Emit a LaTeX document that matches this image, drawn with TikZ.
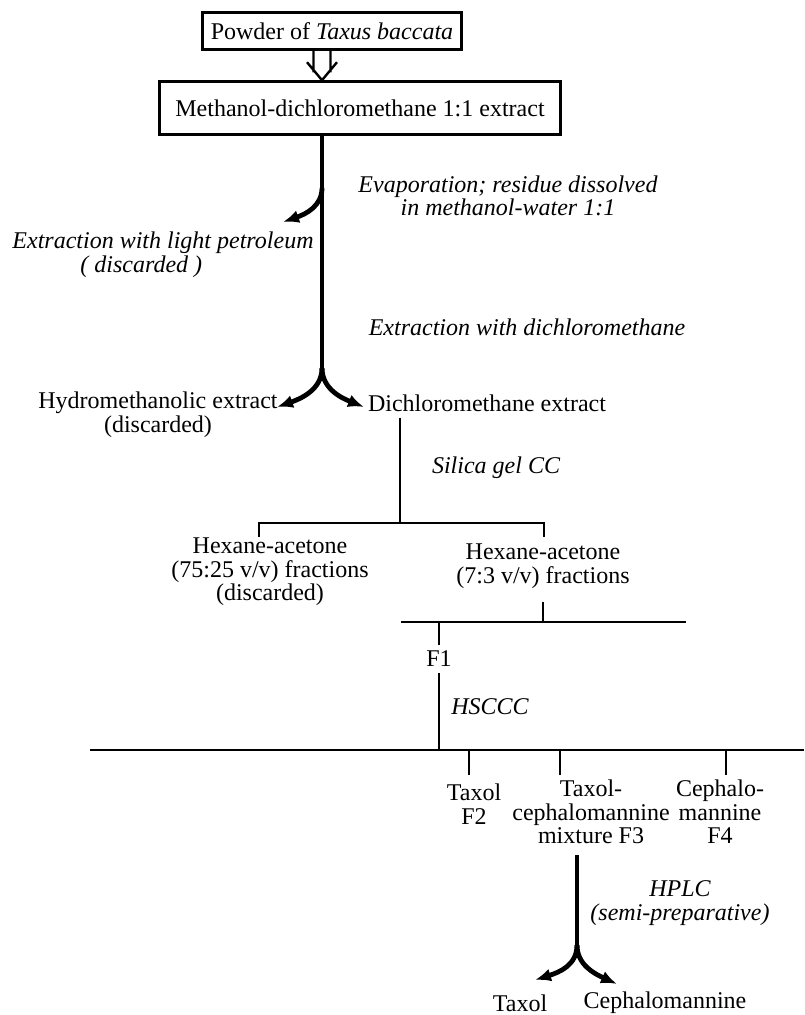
\documentclass[tikz,border=0pt]{standalone}
\usepackage{fontspec}
\setmainfont{Liberation Serif}
\usetikzlibrary{arrows.meta}

\begin{document}
\begin{tikzpicture}[x=0.5pt,y=-0.5pt,
  every node/.style={font=\fontsize{12}{11.8}\selectfont, inner sep=0pt, align=center},
  box/.style={draw, line width=1.3pt},
  lab/.style={font=\fontsize{12}{11.8}\selectfont\itshape},
  thinline/.style={line width=0.9pt},
  midline/.style={line width=1.4pt},
  heavyline/.style={line width=2.4pt},
  hollowline/.style={line width=1.2pt, line join=miter},
  tip/.style={-{Latex[length=8pt,width=6.5pt]}}]
\useasboundingbox (0,0) rectangle (804,1015);
\node[box, minimum width=129.5pt, minimum height=18.5pt] (v1) at (332,31) {Powder of \textit{Taxus baccata}};
\node[box, minimum width=200.5pt, minimum height=26.5pt] (v2) at (360,108) {Methanol-dichloromethane 1:1 extract};
\node[lab] (v3) at (508,196) {Evaporation; residue dissolved\\in methanol-water 1:1};
\node[lab, align=left] (v4) at (163,255) {Extraction with light petroleum\\\hspace*{34pt}( discarded )};
\node[lab] (v5) at (527,327) {Extraction with dichloromethane};
\node (v6) at (158,415) {Hydromethanolic extract\\(discarded)};
\node (v7) at (487,403) {Dichloromethane extract};
\node[lab] (v8) at (496,468) {Silica gel CC};
\node (v9) at (270,572) {Hexane-acetone\\(75:25 v/v) fractions\\(discarded)};
\node (v10) at (543,566) {Hexane-acetone\\(7:3 v/v) fractions};
\node (v11) at (439,659) {F1};
\node[lab] (v12) at (490,707) {HSCCC};
\node (v13) at (474,804) {Taxol\\F2};
\node (v14) at (591,812) {Taxol-\\cephalomannine\\mixture F3};
\node (v15) at (720,812) {Cephalo-\\mannine\\F4};
\node[lab] (v16) at (680,903) {HPLC\\(semi-preparative)};
\node (v17) at (520,1003) {Taxol};
\node (v18) at (665,1003) {Cephalomannine};
\coordinate (a1) at (322,188);
\coordinate (a2) at (322,368);
\coordinate (a3) at (283,222);
\coordinate (a4) at (277,407);
\coordinate (a5) at (364,407);
\coordinate (b0) at (400,523);
\coordinate (b1) at (259,537);
\coordinate (b2) at (544,537);
\coordinate (c0) at (401,622);
\coordinate (c1) at (686,622);
\coordinate (c2) at (543,602);
\coordinate (d0) at (90,750);
\coordinate (d1) at (804,750);
\coordinate (e1) at (469,775);
\coordinate (e2) at (560,775);
\coordinate (e3) at (726,775);
\coordinate (g0) at (577,855);
\coordinate (g1) at (577,945);
\coordinate (g2) at (535,980);
\coordinate (g3) at (617,984);
\draw [hollowline] (v1.south -| a1) ++(-8.5,0) -- ++(0,21.5)
  (v1.south -| a1) ++(8.5,0) -- ++(0,21.5)
  (v2.north -| a1) ++(-15,-18) -- (v2.north -| a1) -- ++(15,-18);
\draw [heavyline] (v2.south -| a1) -- (a2);
\draw [heavyline, tip] (a1) .. controls (322,206) and (306,214) .. (a3);
\draw [heavyline, tip] (a2) .. controls (322,390) and (300,399) .. (a4);
\draw [heavyline, tip] (a2) .. controls (322,390) and (344,399) .. (a5);
\draw [thinline, shorten <=3pt] (v7.south -| b0) -- (b0);
\draw [midline] (b1) |- (b0) -| (b2);
\draw [thinline] (c2) -- (c2 |- c0);
\draw [midline] (c0) -- (c1);
\draw [thinline, shorten >=3pt] (v11 |- c0) -- (v11);
\draw [thinline, shorten <=3pt] (v11) -- (v11 |- d0);
\draw [midline] (d0) -- (d1);
\foreach \t in {e1,e2,e3} \draw [thinline] (\t |- d0) -- (\t);
\draw [heavyline] (g0) -- (g1);
\draw [heavyline, tip] (g1) .. controls (577,965) and (560,972) .. (g2);
\draw [heavyline, tip] (g1) .. controls (577,965) and (595,974) .. (g3);
\end{tikzpicture}
\end{document}
